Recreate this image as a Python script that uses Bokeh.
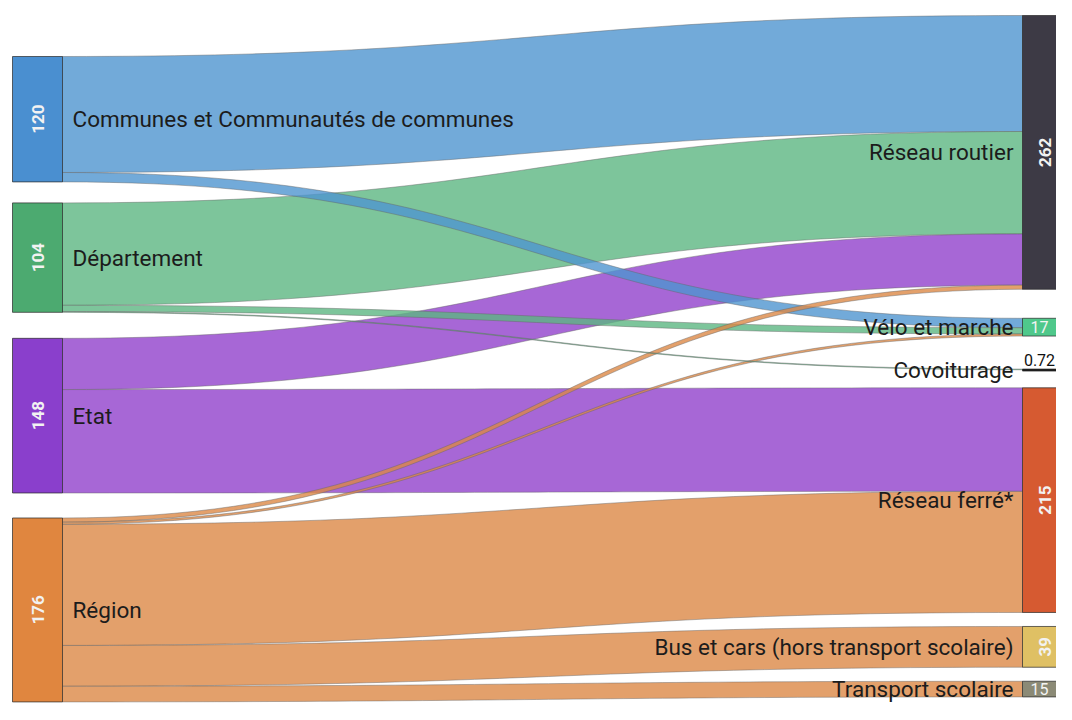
import numpy as np
from bokeh.plotting import figure
from bokeh.models import Range1d
from bokeh.core.properties import value
from bokeh.embed import file_html
from bokeh.resources import INLINE

# ---------------- data ----------------
source_names = ["Communes et Communautés de communes", "Département", "Etat", "Région"]
source_labels = ["120", "104", "148", "176"]
target_names = ["Réseau routier", "Vélo et marche", "Covoiturage", "Réseau ferré*",
                "Bus et cars (hors transport scolaire)", "Transport scolaire"]
target_labels = ["262", "17", "0.72", "215", "39", "15"]

link_source = [0, 0, 1, 1, 1, 2, 2, 3, 3, 3, 3, 3]
link_target = [0, 1, 0, 1, 2, 0, 3, 0, 1, 3, 4, 5]
link_value = [111, 9, 98, 6, 0.72, 49, 99, 4, 2, 116, 39, 15]

source_colors = ["#4a8fd0", "#4caa70", "#8a3fcc", "#e0863f"]
band_colors = ["#4f95cf", "#5cb782", "#9141cc", "#dc8846"]
target_colors = ["#3d3a45", "#4fc88b", "#1a1a1a", "#d65a31", "#dfc064", "#8b8a76"]

# ---------------- layout constants ----------------
W, H = 1056, 704
K = 1.045                     # px per unit
LX0, LX1 = 12, 62
RX0, RX1 = 1022, 1072
LEFT_TOP, LEFT_GAPS = 56, [21, 26, 25]
RIGHT_TOP, RIGHT_GAPS = 15, [29, 33, 18, 14, 14]
FONT = value("Roboto")
NAME_SIZE = "22.5px"

ns, nt = len(source_names), len(target_names)
src_tot = [sum(v for s, v in zip(link_source, link_value) if s == i) for i in range(ns)]
tgt_tot = [sum(v for t, v in zip(link_target, link_value) if t == j) for j in range(nt)]


def column_tops(totals, top, gaps):
    tops = []
    y = top
    for i, tot in enumerate(totals):
        tops.append(y)
        y += tot * K + (gaps[i] if i < len(gaps) else 0)
    return tops


src_top = column_tops(src_tot, LEFT_TOP, LEFT_GAPS)
tgt_top = column_tops(tgt_tot, RIGHT_TOP, RIGHT_GAPS)

# link offsets
nl = len(link_value)
sy0 = [0.0] * nl
ty0 = [0.0] * nl
for i in range(ns):
    off = src_top[i]
    for li in sorted([l for l in range(nl) if link_source[l] == i], key=lambda l: link_target[l]):
        sy0[li] = off
        off += link_value[li] * K
for j in range(nt):
    off = tgt_top[j]
    for li in sorted([l for l in range(nl) if link_target[l] == j], key=lambda l: link_source[l]):
        ty0[li] = off
        off += link_value[li] * K

t = np.linspace(0, 1, 60)


def bez(a, b):
    return (1 - t) ** 3 * a + 3 * (1 - t) ** 2 * t * a + 3 * (1 - t) * t ** 2 * b + t ** 3 * b


XM = (LX1 + RX0) / 2
x_curve = (1 - t) ** 3 * LX1 + 3 * (1 - t) ** 2 * t * XM + 3 * (1 - t) * t ** 2 * XM + t ** 3 * RX0

xs, ys, fc = [], [], []
for li in sorted(range(nl), key=lambda l: -link_value[l]):
    h = link_value[li] * K
    top = bez(sy0[li], ty0[li])
    bot = bez(sy0[li] + h, ty0[li] + h)
    px = np.concatenate([x_curve, x_curve[::-1]])
    py = np.concatenate([top, bot[::-1]])
    xs.append(list(px))
    ys.append(list(H - py))
    fc.append(band_colors[link_source[li]])

p = figure(width=W, height=H, output_backend="svg", toolbar_location=None,
           x_axis_type=None, y_axis_type=None, min_border=0,
           x_range=Range1d(0, W), y_range=Range1d(0, H))
p.grid.visible = False
p.outline_line_color = None
p.background_fill_color = "white"
p.border_fill_color = "white"

p.patches(xs, ys, fill_color=fc, fill_alpha=0.8, line_color="#666666", line_alpha=0.45, line_width=1)

# nodes
p.quad(left=[LX0] * ns, right=[LX1] * ns,
       top=[H - y for y in src_top],
       bottom=[H - (y + v * K) for y, v in zip(src_top, src_tot)],
       fill_color=source_colors, line_color="#2a2a2a", line_alpha=0.7, line_width=1)
p.quad(left=[RX0] * nt, right=[RX1] * nt,
       top=[H - y for y in tgt_top],
       bottom=[H - (y + max(v * K, 2)) for y, v in zip(tgt_top, tgt_tot)],
       fill_color=target_colors, line_color="#2a2a2a", line_alpha=0.7, line_width=1)

# node name labels
src_cy = [H - (y + v * K / 2) for y, v in zip(src_top, src_tot)]
tgt_cy = [H - (y + max(v * K, 2) / 2) for y, v in zip(tgt_top, tgt_tot)]
p.text(x=[LX1 + 10] * ns, y=src_cy, text=source_names, text_font=FONT,
       text_font_size=NAME_SIZE, text_align="left", text_baseline="middle", text_color="#1c1c1c")
p.text(x=[RX0 - 9] * nt, y=tgt_cy, text=target_names, text_font=FONT,
       text_font_size=NAME_SIZE, text_align="right", text_baseline="middle", text_color="#1c1c1c")

# value labels
rx, ry, rt = [], [], []
hx, hy, ht, hc = [], [], [], []
for i in range(ns):
    rx.append((LX0 + LX1) / 2); ry.append(src_cy[i]); rt.append(source_labels[i])
vis_cx = (RX0 + min(RX1, W)) / 2   # centre of the visible part of right-hand nodes
for j in range(nt):
    hpx = tgt_tot[j] * K
    if tgt_tot[j] < 1:
        hx.append(vis_cx); hy.append(tgt_cy[j] + 10); ht.append(target_labels[j]); hc.append("#111111")
    elif hpx < 30:
        hx.append(vis_cx); hy.append(tgt_cy[j]); ht.append(target_labels[j]); hc.append("#f4f4f4")
    else:
        rx.append(vis_cx + 5); ry.append(tgt_cy[j]); rt.append(target_labels[j])

p.text(x=rx, y=ry, text=rt, angle=np.pi / 2, text_font=FONT, text_font_size="17px",
       text_font_style="bold", text_align="center", text_baseline="middle", text_color="#f2f2f2")
p.text(x=hx, y=hy, text=ht, text_font=FONT, text_font_size="16px",
       text_align="center", text_baseline="middle", text_color=hc)

open("out.html", "w").write(file_html(p, INLINE))
